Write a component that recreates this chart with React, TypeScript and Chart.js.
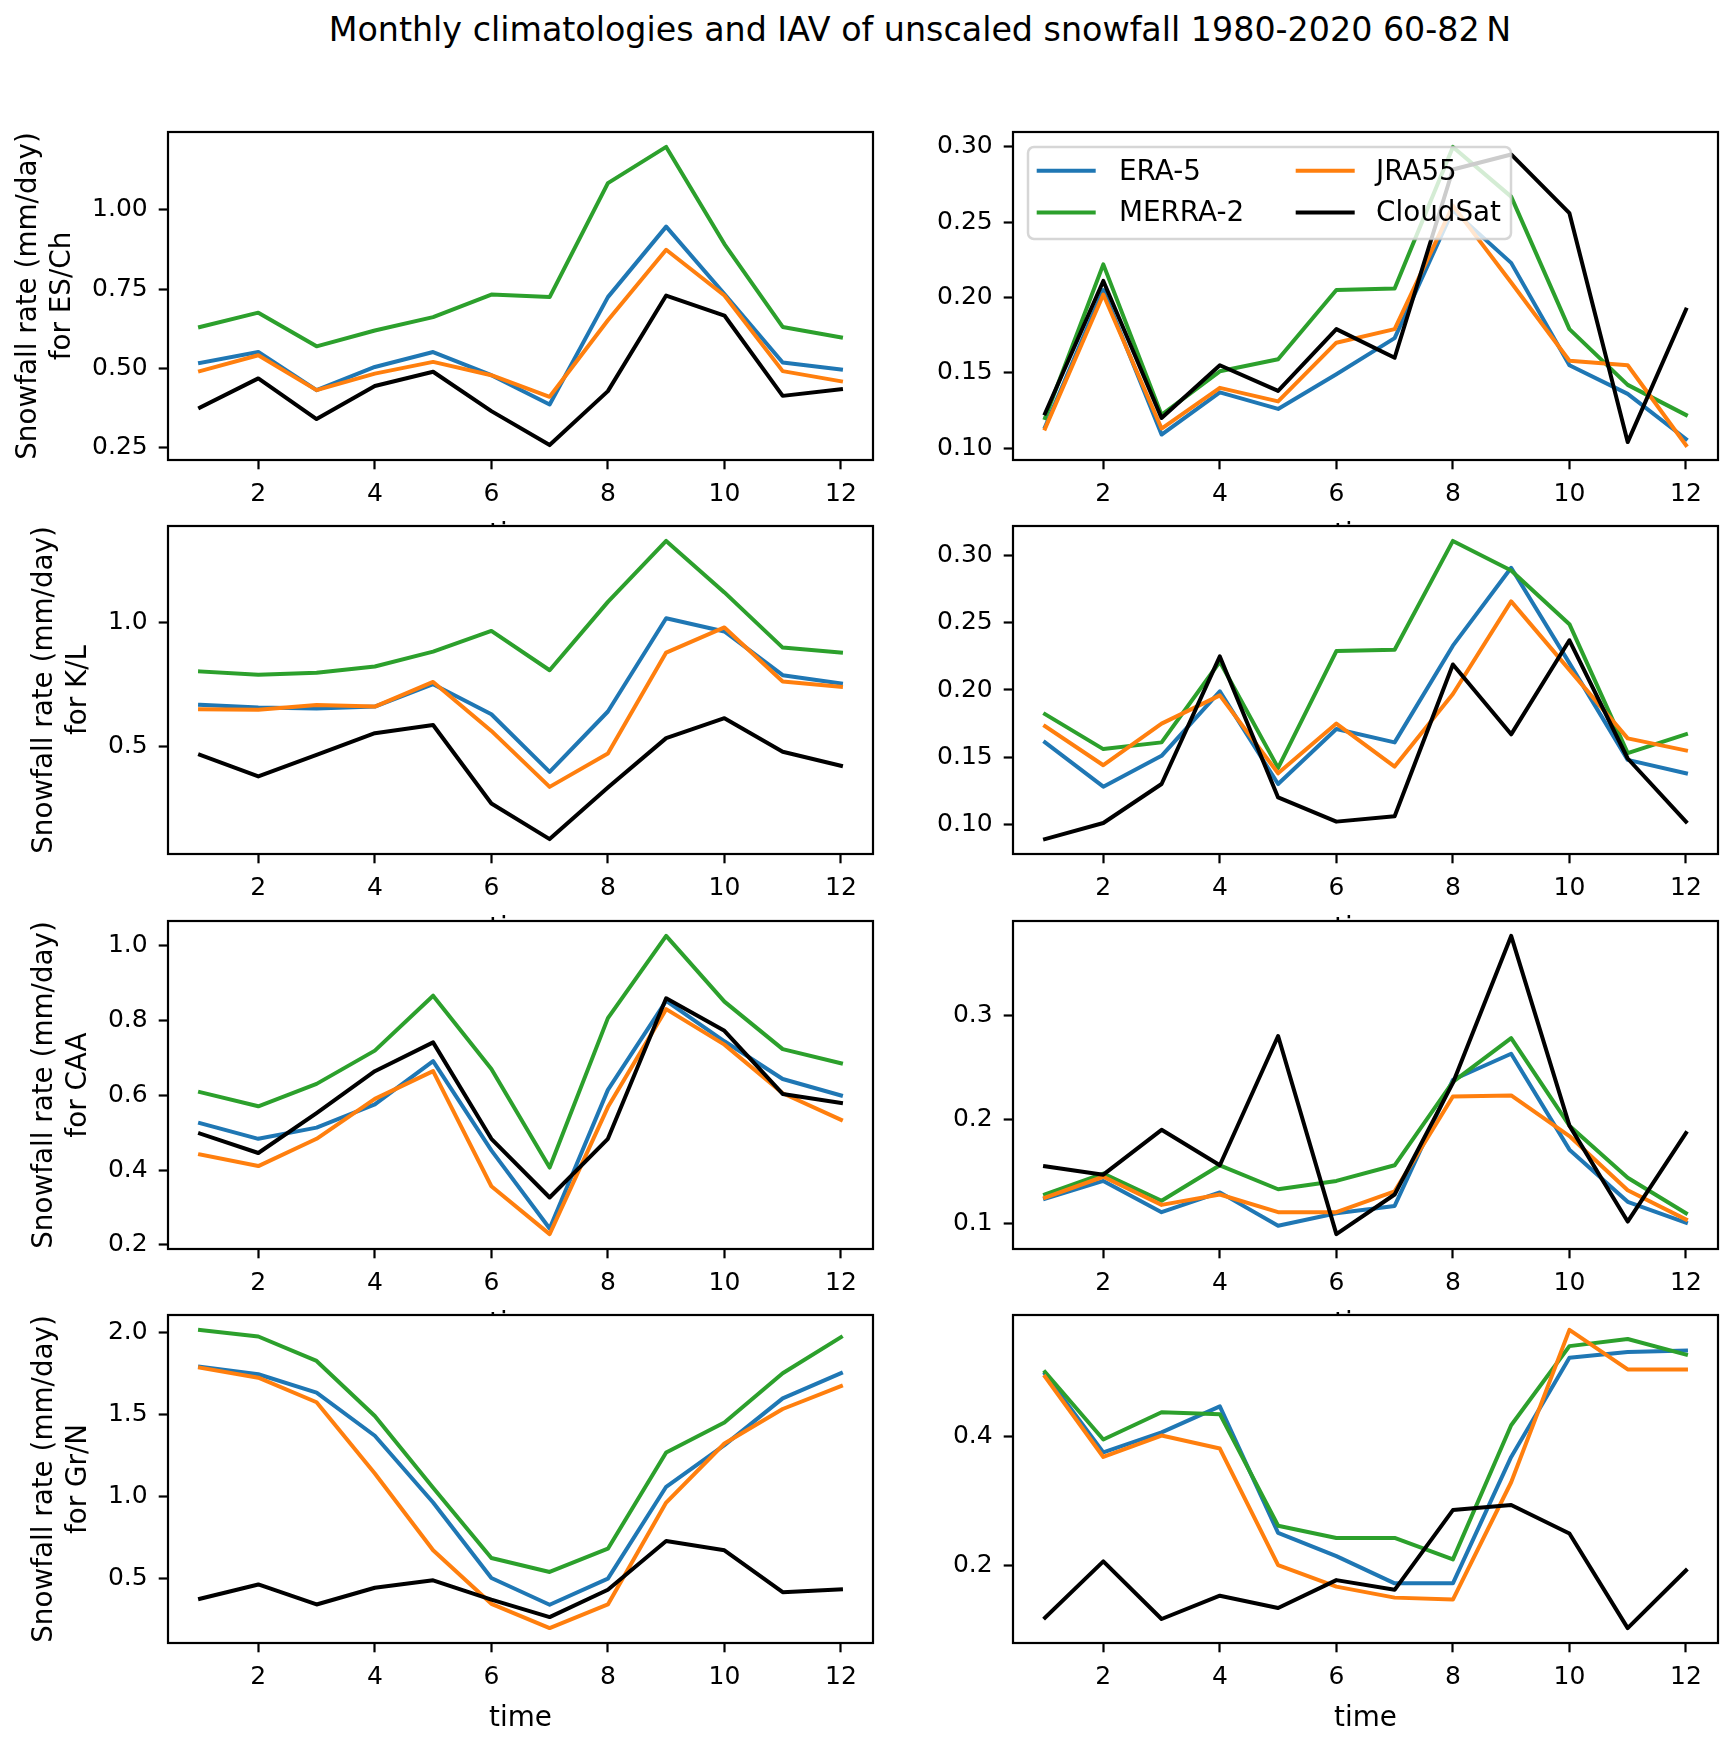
import React, { useEffect, useRef } from "react";
import { Chart, registerables } from "chart.js";

Chart.register(...registerables);

// ---------------- data ----------------
const months = [1, 2, 3, 4, 5, 6, 7, 8, 9, 10, 11, 12];
const xTickLabels = ["2", "4", "6", "8", "10", "12"];
const seriesNames = ["ERA-5", "MERRA-2", "JRA55", "CloudSat"];
const seriesColors = ["#1f77b4", "#2ca02c", "#ff7f0e", "#000000"];
const figureTitle = "Monthly climatologies and IAV of unscaled snowfall 1980-2020 60-82\u2009N";
const xTitle = "time";
const yTitlePrefix = "Snowfall rate (mm/day)";
const regions = ["ES/Ch", "K/L", "CAA", "Gr/N"];

// ES/Ch climatology
const esChClimEra5 = [0.518, 0.552, 0.432, 0.505, 0.552, 0.479, 0.387, 0.725, 0.947, 0.735, 0.519, 0.497];
const esChClimMerra2 = [0.631, 0.676, 0.57, 0.62, 0.662, 0.733, 0.725, 1.084, 1.198, 0.892, 0.631, 0.598];
const esChClimJra55 = [0.492, 0.542, 0.432, 0.484, 0.521, 0.479, 0.411, 0.652, 0.874, 0.73, 0.492, 0.46];
const esChClimCloudSat = [0.377, 0.469, 0.341, 0.445, 0.49, 0.366, 0.259, 0.429, 0.73, 0.667, 0.414, 0.435];
const esChClimYTicks = ["0.25", "0.50", "0.75", "1.00"];

// ES/Ch IAV
const esChIavEra5 = [0.114, 0.205, 0.109, 0.137, 0.126, 0.149, 0.173, 0.258, 0.223, 0.155, 0.136, 0.106];
const esChIavMerra2 = [0.12, 0.222, 0.122, 0.151, 0.159, 0.205, 0.206, 0.3, 0.267, 0.179, 0.142, 0.122];
const esChIavJra55 = [0.113, 0.202, 0.113, 0.14, 0.131, 0.17, 0.179, 0.261, 0.21, 0.158, 0.155, 0.102];
const esChIavCloudSat = [0.123, 0.211, 0.12, 0.155, 0.138, 0.179, 0.16, 0.285, 0.295, 0.256, 0.104, 0.192];
const esChIavYTicks = ["0.10", "0.15", "0.20", "0.25", "0.30"];

// K/L climatology
const klClimEra5 = [0.669, 0.658, 0.654, 0.662, 0.752, 0.631, 0.399, 0.642, 1.017, 0.964, 0.788, 0.755];
const klClimMerra2 = [0.803, 0.79, 0.798, 0.823, 0.883, 0.966, 0.808, 1.083, 1.328, 1.121, 0.899, 0.879];
const klClimJra55 = [0.651, 0.649, 0.668, 0.662, 0.761, 0.564, 0.339, 0.473, 0.879, 0.98, 0.763, 0.741];
const klClimCloudSat = [0.468, 0.381, 0.468, 0.555, 0.588, 0.272, 0.129, 0.336, 0.535, 0.615, 0.48, 0.424];
const klClimYTicks = ["0.5", "1.0"];

// K/L IAV
const klIavEra5 = [0.161, 0.128, 0.151, 0.199, 0.13, 0.171, 0.161, 0.233, 0.291, 0.22, 0.148, 0.138];
const klIavMerra2 = [0.182, 0.156, 0.161, 0.221, 0.142, 0.229, 0.23, 0.311, 0.289, 0.249, 0.153, 0.167];
const klIavJra55 = [0.173, 0.144, 0.175, 0.196, 0.138, 0.175, 0.143, 0.197, 0.266, 0.215, 0.164, 0.155];
const klIavCloudSat = [0.089, 0.101, 0.13, 0.225, 0.12, 0.102, 0.106, 0.219, 0.167, 0.237, 0.149, 0.102];
const klIavYTicks = ["0.10", "0.15", "0.20", "0.25", "0.30"];

// CAA climatology
const caaClimEra5 = [0.526, 0.484, 0.514, 0.576, 0.692, 0.453, 0.244, 0.615, 0.853, 0.745, 0.644, 0.6];
const caaClimMerra2 = [0.609, 0.571, 0.631, 0.72, 0.867, 0.671, 0.407, 0.807, 1.027, 0.851, 0.724, 0.686];
const caaClimJra55 = [0.442, 0.411, 0.484, 0.591, 0.665, 0.357, 0.229, 0.569, 0.831, 0.736, 0.606, 0.535];
const caaClimCloudSat = [0.498, 0.446, 0.553, 0.665, 0.742, 0.484, 0.327, 0.484, 0.86, 0.773, 0.604, 0.58];
const caaClimYTicks = ["0.2", "0.4", "0.6", "0.8", "1.0"];

// CAA IAV
const caaIavEra5 = [0.124, 0.141, 0.111, 0.13, 0.098, 0.11, 0.117, 0.238, 0.263, 0.171, 0.121, 0.101];
const caaIavMerra2 = [0.128, 0.148, 0.122, 0.156, 0.133, 0.141, 0.156, 0.236, 0.278, 0.194, 0.144, 0.11];
const caaIavJra55 = [0.125, 0.145, 0.118, 0.128, 0.111, 0.111, 0.131, 0.222, 0.223, 0.184, 0.132, 0.104];
const caaIavCloudSat = [0.155, 0.147, 0.19, 0.156, 0.28, 0.09, 0.128, 0.235, 0.376, 0.194, 0.102, 0.187];
const caaIavYTicks = ["0.1", "0.2", "0.3"];

// Gr/N climatology
const grnClimEra5 = [1.792, 1.746, 1.634, 1.371, 0.964, 0.504, 0.341, 0.5, 1.06, 1.314, 1.599, 1.752];
const grnClimMerra2 = [2.016, 1.976, 1.827, 1.491, 1.054, 0.626, 0.541, 0.683, 1.269, 1.452, 1.752, 1.972];
const grnClimJra55 = [1.786, 1.725, 1.575, 1.141, 0.673, 0.347, 0.199, 0.343, 0.964, 1.324, 1.534, 1.674];
const grnClimCloudSat = [0.378, 0.465, 0.343, 0.445, 0.49, 0.372, 0.266, 0.433, 0.73, 0.673, 0.418, 0.435];
const grnClimYTicks = ["0.5", "1.0", "1.5", "2.0"];

// Gr/N IAV
const grnIavEra5 = [0.496, 0.375, 0.406, 0.446, 0.251, 0.215, 0.173, 0.173, 0.368, 0.521, 0.53, 0.532];
const grnIavMerra2 = [0.499, 0.395, 0.437, 0.434, 0.262, 0.243, 0.243, 0.21, 0.417, 0.539, 0.55, 0.526];
const grnIavJra55 = [0.492, 0.368, 0.401, 0.381, 0.201, 0.168, 0.151, 0.148, 0.329, 0.564, 0.503, 0.503];
const grnIavCloudSat = [0.12, 0.207, 0.118, 0.154, 0.135, 0.178, 0.163, 0.286, 0.294, 0.25, 0.104, 0.193];
const grnIavYTicks = ["0.2", "0.4"];

// ---------------- panel table ----------------
type PanelDef = {
  row: number;
  col: number;
  region: string;
  series: number[][];
  yTicks: string[];
  legend?: boolean;
};

const panels: PanelDef[] = [
  { row: 0, col: 0, region: regions[0], series: [esChClimEra5, esChClimMerra2, esChClimJra55, esChClimCloudSat], yTicks: esChClimYTicks },
  { row: 0, col: 1, region: regions[0], series: [esChIavEra5, esChIavMerra2, esChIavJra55, esChIavCloudSat], yTicks: esChIavYTicks, legend: true },
  { row: 1, col: 0, region: regions[1], series: [klClimEra5, klClimMerra2, klClimJra55, klClimCloudSat], yTicks: klClimYTicks },
  { row: 1, col: 1, region: regions[1], series: [klIavEra5, klIavMerra2, klIavJra55, klIavCloudSat], yTicks: klIavYTicks },
  { row: 2, col: 0, region: regions[2], series: [caaClimEra5, caaClimMerra2, caaClimJra55, caaClimCloudSat], yTicks: caaClimYTicks },
  { row: 2, col: 1, region: regions[2], series: [caaIavEra5, caaIavMerra2, caaIavJra55, caaIavCloudSat], yTicks: caaIavYTicks },
  { row: 3, col: 0, region: regions[3], series: [grnClimEra5, grnClimMerra2, grnClimJra55, grnClimCloudSat], yTicks: grnClimYTicks },
  { row: 3, col: 1, region: regions[3], series: [grnIavEra5, grnIavMerra2, grnIavJra55, grnIavCloudSat], yTicks: grnIavYTicks },
];

// ---------------- layout ----------------
const FONT = "'DejaVu Sans', 'Liberation Sans', sans-serif";
const AX_LEFT = [168, 1013];
const CANVAS_LEFT = [0, 900];
const AX_W = 705;
const AX_TOP = [132, 526, 921, 1315];
const AX_H = 328;
const PAD_TOP = 30;
const PAD_RIGHT = 12;
const X_AXIS_H = 94;
const TICK_LEN = 9.3;
const SPINE_W = 2.2;
const LINE_W = 4;
const TICK_FONT_SIZE = 25;

const framePlugin = {
  id: "frame",
  beforeDraw(chart: any) {
    const { ctx, chartArea: a } = chart;
    ctx.save();
    ctx.fillStyle = "#ffffff";
    ctx.fillRect(a.left, a.top, a.right - a.left, a.bottom - a.top);
    ctx.restore();
  },
  afterDatasetsDraw(chart: any) {
    const { ctx, chartArea: a } = chart;
    ctx.save();
    ctx.strokeStyle = "#000000";
    ctx.lineWidth = SPINE_W;
    ctx.strokeRect(a.left, a.top, a.right - a.left, a.bottom - a.top);
    ctx.restore();
  },
};

const legendPlugin = {
  id: "innerLegend",
  afterDraw(chart: any) {
    const { ctx, chartArea: a } = chart;
    const bx = a.left + 15;
    const by = a.top + 15;
    const bw = 483;
    const bh = 92;
    const r = 6;
    ctx.save();
    ctx.beginPath();
    ctx.moveTo(bx + r, by);
    ctx.lineTo(bx + bw - r, by);
    ctx.arcTo(bx + bw, by, bx + bw, by + r, r);
    ctx.lineTo(bx + bw, by + bh - r);
    ctx.arcTo(bx + bw, by + bh, bx + bw - r, by + bh, r);
    ctx.lineTo(bx + r, by + bh);
    ctx.arcTo(bx, by + bh, bx, by + bh - r, r);
    ctx.lineTo(bx, by + r);
    ctx.arcTo(bx, by, bx + r, by, r);
    ctx.closePath();
    ctx.fillStyle = "rgba(255,255,255,0.8)";
    ctx.fill();
    ctx.strokeStyle = "rgba(204,204,204,0.8)";
    ctx.lineWidth = 2.5;
    ctx.stroke();

    const rowY = [23.7, 65.4];
    const handleX = [8.7, 267.7];
    const textX = [91, 348];
    ctx.font = `27.8px ${FONT}`;
    ctx.textBaseline = "middle";
    ctx.textAlign = "left";
    seriesNames.forEach((name, i) => {
      const c = Math.floor(i / 2);
      const rr = i % 2;
      const y = by + rowY[rr];
      ctx.beginPath();
      ctx.strokeStyle = seriesColors[i];
      ctx.lineWidth = LINE_W;
      ctx.lineCap = "butt";
      ctx.moveTo(bx + handleX[c], y);
      ctx.lineTo(bx + handleX[c] + 59, y);
      ctx.stroke();
      ctx.fillStyle = "#000000";
      ctx.fillText(name, bx + textX[c], y + 1.8);
    });
    ctx.restore();
  },
};

function paddedRange(values: number[]) {
  const lo = Math.min(...values);
  const hi = Math.max(...values);
  const m = (hi - lo) * 0.05;
  return { min: lo - m, max: hi + m };
}

function Panel({ p }: { p: PanelDef }) {
  const ref = useRef<HTMLCanvasElement>(null);
  const yw = AX_LEFT[p.col] - CANVAS_LEFT[p.col];
  const w = yw + AX_W + PAD_RIGHT;
  const h = PAD_TOP + AX_H + X_AXIS_H;
  const top = AX_TOP[p.row] - PAD_TOP;
  const left = CANVAS_LEFT[p.col];

  useEffect(() => {
    if (!ref.current) return;
    const xr = paddedRange(months);
    const yr = paddedRange(p.series.flat());
    const tickFont = { family: FONT, size: TICK_FONT_SIZE, lineHeight: 1.2 };
    const labelFont = { family: FONT, size: 27.8, lineHeight: 1.2 };
    // y label sits further left when the tick labels are wider (like matplotlib)
    const maxChars = Math.max(...p.yTicks.map((t) => t.length));
    const yTitlePad = 28.3 - (maxChars - 3) * 0.636 * TICK_FONT_SIZE;
    const gridOpts = {
      display: true,
      drawOnChartArea: false,
      drawTicks: true,
      tickLength: TICK_LEN,
      tickWidth: SPINE_W,
      tickColor: "#000000",
      color: "#000000",
    };
    const chart = new Chart(ref.current, {
      type: "line",
      data: {
        datasets: p.series.map((vals, i) => ({
          label: seriesNames[i],
          data: months.map((m, j) => ({ x: m, y: vals[j] })),
          borderColor: seriesColors[i],
          backgroundColor: seriesColors[i],
          borderWidth: LINE_W,
          pointRadius: 0,
          pointHoverRadius: 0,
          tension: 0,
          fill: false,
          borderJoinStyle: "round",
          borderCapStyle: "square",
          order: seriesNames.length - 1 - i,
        })),
      },
      options: {
        responsive: false,
        animation: false,
        events: [],
        layout: { padding: { top: PAD_TOP, right: PAD_RIGHT, left: 0, bottom: 0 } },
        plugins: {
          legend: { display: false },
          tooltip: { enabled: false },
          title: { display: false },
        },
        scales: {
          x: {
            type: "linear",
            min: xr.min,
            max: xr.max,
            afterBuildTicks: (s: any) => {
              s.ticks = xTickLabels.map((l) => ({ value: Number(l) }));
            },
            afterFit: (s: any) => {
              s.height = X_AXIS_H;
            },
            ticks: {
              callback: (_v: any, i: number) => xTickLabels[i],
              font: tickFont,
              color: "#000000",
              padding: 9.7,
              maxRotation: 0,
              minRotation: 0,
              autoSkip: false,
            },
            grid: gridOpts,
            border: { display: false },
            title: {
              display: true,
              text: xTitle,
              font: labelFont,
              color: "#000000",
              padding: { top: 0, bottom: 1.5 },
            },
          },
          y: {
            type: "linear",
            min: yr.min,
            max: yr.max,
            afterBuildTicks: (s: any) => {
              s.ticks = p.yTicks.map((l) => ({ value: Number(l) }));
            },
            afterFit: (s: any) => {
              s.width = yw;
            },
            ticks: {
              callback: (_v: any, i: number) => p.yTicks[i],
              font: tickFont,
              color: "#000000",
              padding: 11,
              autoSkip: false,
            },
            grid: gridOpts,
            border: { display: false },
            title: {
              display: p.col === 0,
              text: [yTitlePrefix, "for " + p.region],
              font: labelFont,
              color: "#000000",
              padding: { top: yTitlePad, bottom: 0 },
            },
          },
        },
      },
      plugins: p.legend ? [framePlugin, legendPlugin] : [framePlugin],
    } as any);
    return () => chart.destroy();
  }, [p]);

  return (
    <canvas
      ref={ref}
      width={w}
      height={h}
      style={{ position: "absolute", left, top, width: w, height: h, display: "block" }}
    />
  );
}

export default function App() {
  return (
    <div
      style={{
        position: "absolute",
        left: 0,
        top: 0,
        width: 1735,
        height: 1740,
        background: "#ffffff",
        overflow: "hidden",
      }}
    >
      <div
        style={{
          position: "absolute",
          left: 0,
          top: 10,
          width: 1840,
          textAlign: "center",
          fontFamily: FONT,
          fontSize: "33.3px",
          lineHeight: "40px",
          whiteSpace: "nowrap",
          color: "#000000",
        }}
      >
        {figureTitle}
      </div>
      {panels.map((p, i) => (
        <Panel key={i} p={p} />
      ))}
    </div>
  );
}
